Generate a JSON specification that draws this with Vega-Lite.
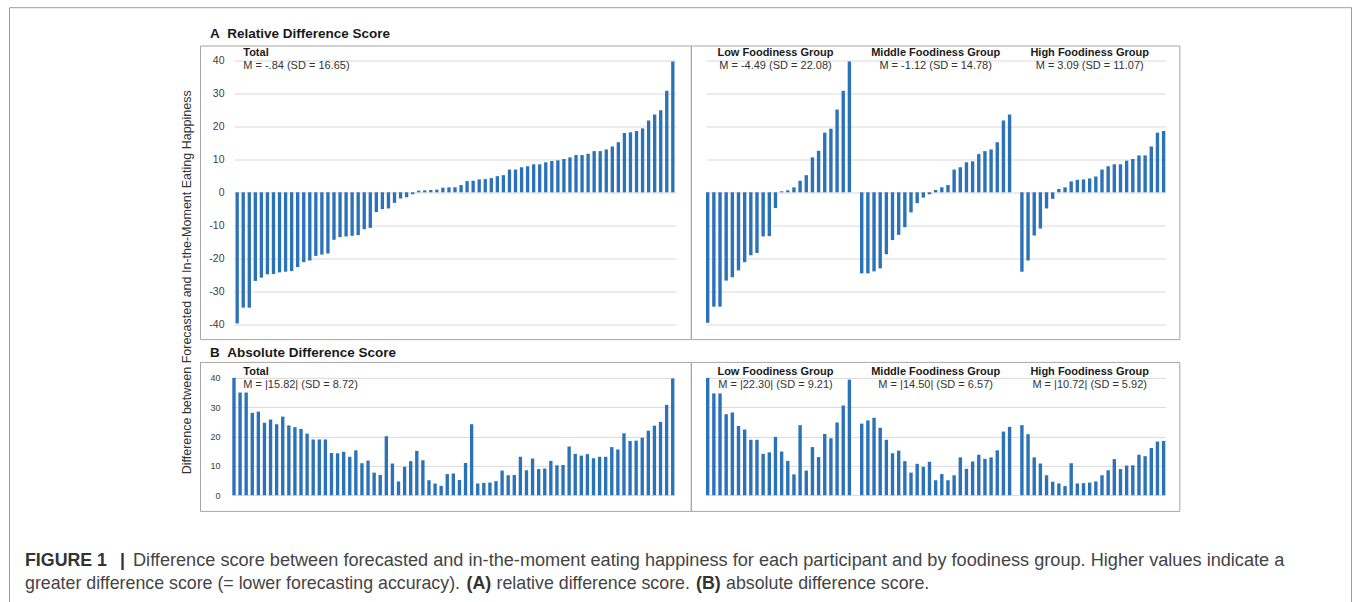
{
  "$schema": "https://vega.github.io/schema/vega-lite/v6.json",
  "padding": {"left": 6, "top": 6.5, "right": 2, "bottom": 0},
  "bounds": "flush",
  "columns": 3,
  "spacing": {"row": 22.4, "column": 0},
  "config": {
    "font": "Liberation Sans",
    "view": {"stroke": "#a6a6a6"}
  },
  "datasets": {
    "aTotal": [
      {"rank":1,"value":-39.8},{"rank":2,"value":-35},{"rank":3,"value":-35},{"rank":4,"value":-26.9},{"rank":5,"value":-25.9},
      {"rank":6,"value":-24.9},{"rank":7,"value":-24.8},{"rank":8,"value":-24.3},{"rank":9,"value":-24.1},{"rank":10,"value":-23.9},
      {"rank":11,"value":-22.7},{"rank":12,"value":-21.2},{"rank":13,"value":-20.7},{"rank":14,"value":-19.3},{"rank":15,"value":-18.9},
      {"rank":16,"value":-18.6},{"rank":17,"value":-14.4},{"rank":18,"value":-13.6},{"rank":19,"value":-13.4},{"rank":20,"value":-13.2},
      {"rank":21,"value":-13},{"rank":22,"value":-11.2},{"rank":23,"value":-10.8},{"rank":24,"value":-6},{"rank":25,"value":-5.1},
      {"rank":26,"value":-4.9},{"rank":27,"value":-3.2},{"rank":28,"value":-1.9},{"rank":29,"value":-1.5},{"rank":30,"value":-0.6},
      {"rank":31,"value":0.5},{"rank":32,"value":0.6},{"rank":33,"value":0.7},{"rank":34,"value":0.8},{"rank":35,"value":1.4},
      {"rank":36,"value":1.5},{"rank":37,"value":1.5},{"rank":38,"value":2.2},{"rank":39,"value":3.4},{"rank":40,"value":3.5},
      {"rank":41,"value":3.9},{"rank":42,"value":4.0},{"rank":43,"value":4.3},{"rank":44,"value":4.9},{"rank":45,"value":5.2},
      {"rank":46,"value":6.9},{"rank":47,"value":6.9},{"rank":48,"value":7.6},{"rank":49,"value":7.9},{"rank":50,"value":8.5},
      {"rank":51,"value":8.5},{"rank":52,"value":9.1},{"rank":53,"value":9.5},{"rank":54,"value":9.7},{"rank":55,"value":10.1},
      {"rank":56,"value":10.6},{"rank":57,"value":11.3},{"rank":58,"value":11.3},{"rank":59,"value":11.7},{"rank":60,"value":12.5},
      {"rank":61,"value":12.5},{"rank":62,"value":13.0},{"rank":63,"value":13.9},{"rank":64,"value":15.2},{"rank":65,"value":18.0},
      {"rank":66,"value":18.2},{"rank":67,"value":18.6},{"rank":68,"value":19.4},{"rank":69,"value":21.8},{"rank":70,"value":23.6},
      {"rank":71,"value":24.9},{"rank":72,"value":30.8},{"rank":73,"value":39.7}
    ],
    "bTotal": [
      {"rank":1,"value":40},{"rank":2,"value":35},{"rank":3,"value":35},{"rank":4,"value":28.1},{"rank":5,"value":28.5},
      {"rank":6,"value":24.7},{"rank":7,"value":25.8},{"rank":8,"value":24.2},{"rank":9,"value":26.8},{"rank":10,"value":23.8},
      {"rank":11,"value":23.2},{"rank":12,"value":22.6},{"rank":13,"value":21.0},{"rank":14,"value":19.0},{"rank":15,"value":19.0},
      {"rank":16,"value":19.0},{"rank":17,"value":14.4},{"rank":18,"value":14.3},{"rank":19,"value":14.8},{"rank":20,"value":13.1},
      {"rank":21,"value":15.3},{"rank":22,"value":10.9},{"rank":23,"value":11.8},{"rank":24,"value":7.7},{"rank":25,"value":6.9},
      {"rank":26,"value":20.1},{"rank":27,"value":10.8},{"rank":28,"value":4.7},{"rank":29,"value":9.7},{"rank":30,"value":11.6},
      {"rank":31,"value":15.1},{"rank":32,"value":11.9},{"rank":33,"value":5.1},{"rank":34,"value":4.0},{"rank":35,"value":3.2},
      {"rank":36,"value":7.2},{"rank":37,"value":7.4},{"rank":38,"value":5.2},{"rank":39,"value":11.0},{"rank":40,"value":24.2},
      {"rank":41,"value":4.0},{"rank":42,"value":4.2},{"rank":43,"value":4.3},{"rank":44,"value":4.8},{"rank":45,"value":8.4},
      {"rank":46,"value":6.8},{"rank":47,"value":6.9},{"rank":48,"value":13.1},{"rank":49,"value":8.5},{"rank":50,"value":12.5},
      {"rank":51,"value":8.9},{"rank":52,"value":9.1},{"rank":53,"value":11.7},{"rank":54,"value":10.2},{"rank":55,"value":10.3},
      {"rank":56,"value":16.6},{"rank":57,"value":14.1},{"rank":58,"value":13.5},{"rank":59,"value":14.0},{"rank":60,"value":12.6},
      {"rank":61,"value":13.1},{"rank":62,"value":13.1},{"rank":63,"value":16.4},{"rank":64,"value":15.6},{"rank":65,"value":21.1},
      {"rank":66,"value":18.5},{"rank":67,"value":18.6},{"rank":68,"value":19.6},{"rank":69,"value":22.0},{"rank":70,"value":23.7},
      {"rank":71,"value":25.0},{"rank":72,"value":30.8},{"rank":73,"value":39.8}
    ],
    "aGroups": [
      {"id":"L1","value":-39.6},{"id":"L2","value":-34.7},{"id":"L3","value":-34.7},{"id":"L4","value":-26.8},{"id":"L5","value":-25.8},
      {"id":"L6","value":-23.7},{"id":"L7","value":-21.2},{"id":"L8","value":-19.1},{"id":"L9","value":-18.4},{"id":"L10","value":-13.4},
      {"id":"L11","value":-13.3},{"id":"L12","value":-4.8},{"id":"L13","value":0.3},{"id":"L14","value":0.6},{"id":"L15","value":1.5},
      {"id":"L16","value":3.5},{"id":"L17","value":5.2},{"id":"L18","value":10.6},{"id":"L19","value":12.6},{"id":"L20","value":18.1},
      {"id":"L21","value":19.3},{"id":"L22","value":25.1},{"id":"L23","value":30.8},{"id":"L24","value":39.7},
      {"id":"M1","value":-24.6},{"id":"M2","value":-24.6},{"id":"M3","value":-24.0},{"id":"M4","value":-23.1},{"id":"M5","value":-18.8},
      {"id":"M6","value":-14.5},{"id":"M7","value":-12.9},{"id":"M8","value":-10.6},{"id":"M9","value":-6.1},{"id":"M10","value":-3.3},
      {"id":"M11","value":-1.6},{"id":"M12","value":-0.6},{"id":"M13","value":0.7},{"id":"M14","value":1.5},{"id":"M15","value":2.2},
      {"id":"M16","value":6.9},{"id":"M17","value":7.6},{"id":"M18","value":9.1},{"id":"M19","value":9.4},{"id":"M20","value":11.6},
      {"id":"M21","value":12.5},{"id":"M22","value":13.0},{"id":"M23","value":15.2},{"id":"M24","value":21.8},{"id":"M25","value":23.6},
      {"id":"H1","value":-24.1},{"id":"H2","value":-20.7},{"id":"H3","value":-13.1},{"id":"H4","value":-11.0},{"id":"H5","value":-4.9},
      {"id":"H6","value":-2.0},{"id":"H7","value":1.0},{"id":"H8","value":1.5},{"id":"H9","value":3.3},{"id":"H10","value":3.8},
      {"id":"H11","value":3.9},{"id":"H12","value":4.2},{"id":"H13","value":4.8},{"id":"H14","value":6.9},{"id":"H15","value":7.9},
      {"id":"H16","value":8.5},{"id":"H17","value":8.5},{"id":"H18","value":9.6},{"id":"H19","value":10.1},{"id":"H20","value":11.2},
      {"id":"H21","value":11.2},{"id":"H22","value":13.9},{"id":"H23","value":18.1},{"id":"H24","value":18.6}
    ],
    "bGroups": [
      {"id":"L1","value":40},{"id":"L2","value":34.7},{"id":"L3","value":34.7},{"id":"L4","value":27.6},{"id":"L5","value":28.2},
      {"id":"L6","value":23.6},{"id":"L7","value":22.4},{"id":"L8","value":18.9},{"id":"L9","value":18.9},{"id":"L10","value":14.1},
      {"id":"L11","value":14.6},{"id":"L12","value":19.9},{"id":"L13","value":14.9},{"id":"L14","value":11.7},{"id":"L15","value":7.1},
      {"id":"L16","value":23.9},{"id":"L17","value":8.4},{"id":"L18","value":16.4},{"id":"L19","value":13.0},{"id":"L20","value":20.9},
      {"id":"L21","value":19.4},{"id":"L22","value":24.8},{"id":"L23","value":30.6},{"id":"L24","value":39.4},
      {"id":"M1","value":24.4},{"id":"M2","value":25.5},{"id":"M3","value":26.4},{"id":"M4","value":23.0},{"id":"M5","value":18.9},
      {"id":"M6","value":14.3},{"id":"M7","value":15.2},{"id":"M8","value":11.6},{"id":"M9","value":7.7},{"id":"M10","value":10.7},
      {"id":"M11","value":9.7},{"id":"M12","value":11.4},{"id":"M13","value":5.1},{"id":"M14","value":7.2},{"id":"M15","value":5.1},
      {"id":"M16","value":6.8},{"id":"M17","value":12.9},{"id":"M18","value":9.0},{"id":"M19","value":11.5},{"id":"M20","value":13.8},
      {"id":"M21","value":12.4},{"id":"M22","value":12.9},{"id":"M23","value":15.3},{"id":"M24","value":21.7},{"id":"M25","value":23.3},
      {"id":"H1","value":23.9},{"id":"H2","value":20.8},{"id":"H3","value":12.9},{"id":"H4","value":10.8},{"id":"H5","value":6.8},
      {"id":"H6","value":4.6},{"id":"H7","value":4.0},{"id":"H8","value":3.1},{"id":"H9","value":10.9},{"id":"H10","value":4.0},
      {"id":"H11","value":4.1},{"id":"H12","value":4.3},{"id":"H13","value":4.7},{"id":"H14","value":6.8},{"id":"H15","value":8.5},
      {"id":"H16","value":12.3},{"id":"H17","value":8.9},{"id":"H18","value":10.1},{"id":"H19","value":10.2},{"id":"H20","value":13.8},
      {"id":"H21","value":13.3},{"id":"H22","value":16.1},{"id":"H23","value":18.3},{"id":"H24","value":18.5}
    ],
    "labelsA": [
      {"anchor":"L12","title":"Low Foodiness Group","stat":"M = -4.49 (SD = 22.08)"},
      {"anchor":"M13","title":"Middle Foodiness Group","stat":"M = -1.12 (SD = 14.78)"},
      {"anchor":"H12","title":"High Foodiness Group","stat":"M = 3.09 (SD = 11.07)"}
    ],
    "labelsB": [
      {"anchor":"L12","title":"Low Foodiness Group","stat":"M = |22.30| (SD = 9.21)"},
      {"anchor":"M13","title":"Middle Foodiness Group","stat":"M = |14.50| (SD = 6.57)"},
      {"anchor":"H12","title":"High Foodiness Group","stat":"M = |10.72| (SD = 5.92)"}
    ],
    "frame": [{"v": 0}]
  },
  "concat": [
    {
      "width": 191, "height": 293.6,
      "view": {"stroke": null},
      "data": {"values": []},
      "mark": "text",
      "encoding": {}
    },
    {
      "width": 490.7, "height": 293.6,
      "title": {"text": "A\u00a0\u00a0Relative Difference Score", "anchor": "start", "frame": "group", "dx": 10, "offset": -5.6, "baseline": "alphabetic", "fontSize": 13.5, "fontWeight": "bold", "color": "#1a1a1a"},
      "layer": [
        {
          "data": {"name": "aTotal"},
          "mark": {"type": "bar", "color": "#2b72b8"},
          "encoding": {
            "x": {"field": "rank", "type": "ordinal", "axis": null,
                  "scale": {"range": [34, 476], "paddingInner": 0.45, "paddingOuter": 0.25}},
            "y": {"field": "value", "type": "quantitative",
                  "scale": {"domain": [-44.55, 44.55], "nice": false, "zero": false},
                  "axis": {"values": [-40,-30,-20,-10,0,10,20,30,40], "grid": true, "gridColor": "#d9d9d9", "gridWidth": 1,
                           "domain": false, "ticks": false, "tickSize": 0, "labelPadding": -24, "labelAlign": "right",
                           "labelOverlap": false, "labelFontSize": 10.5, "labelColor": "#404040", "labelExpr": "'' + datum.value",
                           "title": "Difference between Forecasted and In-the-Moment Eating Happiness",
                           "titleFontSize": 12.5, "titleFontWeight": "normal", "titleColor": "#333333",
                           "titleX": -13.3, "titleY": 236.3, "titleAngle": -90, "titleBaseline": "middle", "titleAlign": "center"}}
          }
        },
        {
          "data": {"values": [{"t": "Total"}]},
          "mark": {"type": "text", "fontWeight": "bold", "fontSize": 11, "align": "left", "baseline": "middle", "color": "#1a1a1a"},
          "encoding": {"x": {"datum": 2, "type": "ordinal"}, "y": {"datum": 42.25, "type": "quantitative", "axis": {"values": [-40,-30,-20,-10,0,10,20,30,40]}}, "text": {"field": "t"}}
        },
        {
          "data": {"values": [{"t": "M = -.84 (SD = 16.65)"}]},
          "mark": {"type": "text", "fontSize": 11, "align": "left", "baseline": "middle", "color": "#333333"},
          "encoding": {"x": {"datum": 2, "type": "ordinal"}, "y": {"datum": 38.2, "type": "quantitative", "axis": {"values": [-40,-30,-20,-10,0,10,20,30,40]}}, "text": {"field": "t"}}
        }
      ]
    },
    {
      "width": 488.3, "height": 293.6,
      "layer": [
        {
          "data": {"name": "aGroups"},
          "mark": {"type": "bar", "color": "#2b72b8"},
          "encoding": {
            "x": {"field": "id", "type": "nominal", "axis": null,
                  "scale": {"domain": ["L1","L2","L3","L4","L5","L6","L7","L8","L9","L10","L11","L12","L13","L14","L15","L16","L17","L18","L19","L20","L21","L22","L23","L24","gap1","M1","M2","M3","M4","M5","M6","M7","M8","M9","M10","M11","M12","M13","M14","M15","M16","M17","M18","M19","M20","M21","M22","M23","M24","M25","gap2","H1","H2","H3","H4","H5","H6","H7","H8","H9","H10","H11","H12","H13","H14","H15","H16","H17","H18","H19","H20","H21","H22","H23","H24"],
                            "range": [15, 474.3], "paddingInner": 0.45, "paddingOuter": 0}},
            "y": {"field": "value", "type": "quantitative",
                  "scale": {"domain": [-44.55, 44.55], "nice": false, "zero": false},
                  "axis": {"values": [-40,-30,-20,-10,0,10,20,30,40], "grid": true, "gridColor": "#d9d9d9", "gridWidth": 1,
                           "domain": false, "ticks": false, "labels": false, "title": null}}
          }
        },
        {
          "data": {"name": "labelsA"},
          "mark": {"type": "text", "fontWeight": "bold", "fontSize": 11, "baseline": "middle", "color": "#1a1a1a"},
          "encoding": {"x": {"field": "anchor", "type": "nominal"}, "y": {"datum": 42.25, "type": "quantitative", "axis": {"values": [-40,-30,-20,-10,0,10,20,30,40]}}, "text": {"field": "title"}}
        },
        {
          "data": {"name": "labelsA"},
          "mark": {"type": "text", "fontSize": 11, "baseline": "middle", "color": "#333333"},
          "encoding": {"x": {"field": "anchor", "type": "nominal"}, "y": {"datum": 38.2, "type": "quantitative", "axis": {"values": [-40,-30,-20,-10,0,10,20,30,40]}}, "text": {"field": "stat"}}
        }
      ]
    },
    {
      "width": 191, "height": 149,
      "view": {"stroke": null},
      "data": {"values": []},
      "mark": "text",
      "encoding": {}
    },
    {
      "width": 490.7, "height": 149,
      "title": {"text": "B\u00a0\u00a0Absolute Difference Score", "anchor": "start", "frame": "group", "dx": 10, "offset": -8.6, "baseline": "alphabetic", "fontSize": 13.5, "fontWeight": "bold", "color": "#1a1a1a"},
      "layer": [
        {
          "data": {"name": "bTotal"},
          "mark": {"type": "bar", "color": "#2b72b8"},
          "encoding": {
            "x": {"field": "rank", "type": "ordinal", "axis": null,
                  "scale": {"range": [31.7, 475], "paddingInner": 0.45, "paddingOuter": 0.1}},
            "y": {"field": "value", "type": "quantitative",
                  "scale": {"domain": [-5.35, 45.45], "nice": false, "zero": false},
                  "axis": {"values": [0,10,20,30,40], "grid": true, "gridColor": "#d9d9d9", "gridWidth": 1,
                           "domain": false, "ticks": false, "tickSize": 0, "labelPadding": -20, "labelAlign": "right",
                           "labelOverlap": false, "labelFontSize": 9, "labelColor": "#404040", "title": null}}
          }
        },
        {
          "data": {"values": [{"t": "Total"}]},
          "mark": {"type": "text", "fontWeight": "bold", "fontSize": 11, "align": "left", "baseline": "middle", "color": "#1a1a1a", "dx": 3.2},
          "encoding": {"x": {"datum": 2, "type": "ordinal"}, "y": {"datum": 42.05, "type": "quantitative", "axis": {"values": [0,10,20,30,40]}}, "text": {"field": "t"}}
        },
        {
          "data": {"values": [{"t": "M = |15.82| (SD = 8.72)"}]},
          "mark": {"type": "text", "fontSize": 11, "align": "left", "baseline": "middle", "color": "#333333", "dx": 3.2},
          "encoding": {"x": {"datum": 2, "type": "ordinal"}, "y": {"datum": 37.5, "type": "quantitative", "axis": {"values": [0,10,20,30,40]}}, "text": {"field": "t"}}
        }
      ]
    },
    {
      "width": 488.3, "height": 149,
      "layer": [
        {
          "data": {"name": "bGroups"},
          "mark": {"type": "bar", "color": "#2b72b8"},
          "encoding": {
            "x": {"field": "id", "type": "nominal", "axis": null,
                  "scale": {"domain": ["L1","L2","L3","L4","L5","L6","L7","L8","L9","L10","L11","L12","L13","L14","L15","L16","L17","L18","L19","L20","L21","L22","L23","L24","gap1","M1","M2","M3","M4","M5","M6","M7","M8","M9","M10","M11","M12","M13","M14","M15","M16","M17","M18","M19","M20","M21","M22","M23","M24","M25","gap2","H1","H2","H3","H4","H5","H6","H7","H8","H9","H10","H11","H12","H13","H14","H15","H16","H17","H18","H19","H20","H21","H22","H23","H24"],
                            "range": [15, 474.3], "paddingInner": 0.45, "paddingOuter": 0}},
            "y": {"field": "value", "type": "quantitative",
                  "scale": {"domain": [-5.35, 45.45], "nice": false, "zero": false},
                  "axis": {"values": [0,10,20,30,40], "grid": true, "gridColor": "#d9d9d9", "gridWidth": 1,
                           "domain": false, "ticks": false, "labels": false, "title": null}}
          }
        },
        {
          "data": {"name": "labelsB"},
          "mark": {"type": "text", "fontWeight": "bold", "fontSize": 11, "baseline": "middle", "color": "#1a1a1a"},
          "encoding": {"x": {"field": "anchor", "type": "nominal"}, "y": {"datum": 42.05, "type": "quantitative", "axis": {"values": [0,10,20,30,40]}}, "text": {"field": "title"}}
        },
        {
          "data": {"name": "labelsB"},
          "mark": {"type": "text", "fontSize": 11, "baseline": "middle", "color": "#333333"},
          "encoding": {"x": {"field": "anchor", "type": "nominal"}, "y": {"datum": 37.6, "type": "quantitative", "axis": {"values": [0,10,20,30,40]}}, "text": {"field": "stat"}}
        }
      ]
    },
    {
      "width": 191, "height": 70,
      "view": {"stroke": null},
      "resolve": {"scale": {"y": "independent"}, "axis": {"y": "independent"}},
      "layer": [
        {
          "data": {"name": "frame"},
          "mark": {"type": "point", "opacity": 0},
          "encoding": {
            "x": {"field": "v", "type": "quantitative", "scale": {"domain": [0, 1], "range": [0, 1342]},
                  "axis": {"orient": "top", "offset": 526.1, "domain": true, "domainColor": "#9a9a9a", "domainWidth": 1, "ticks": false, "labels": false, "grid": false, "title": null}},
            "y": {"field": "v", "type": "quantitative", "scale": {"domain": [0, 1], "range": [70, -526.1]},
                  "axis": {"orient": "left", "domain": true, "domainColor": "#9a9a9a", "domainWidth": 1, "ticks": false, "labels": false, "grid": false, "title": null}}
          }
        },
        {
          "data": {"name": "frame"},
          "mark": {"type": "point", "opacity": 0},
          "encoding": {
            "x": {"field": "v", "type": "quantitative"},
            "y": {"field": "v", "type": "quantitative", "scale": {"domain": [0, 1], "range": [70, -526.1]},
                  "axis": {"orient": "right", "offset": 1151, "domain": true, "domainColor": "#9a9a9a", "domainWidth": 1, "ticks": false, "labels": false, "grid": false, "title": null}}
          }
        },
        {"data": {"values": [{"t": "FIGURE 1"}]}, "mark": {"type": "text", "align": "left", "baseline": "alphabetic", "fontSize": 17.8, "fontWeight": "bold", "color": "#333333", "dx": 0},
         "encoding": {"x": {"value": 16}, "y": {"value": 32.9}, "text": {"field": "t"}}},
        {"data": {"values": [{"t": "|"}]}, "mark": {"type": "text", "align": "left", "baseline": "alphabetic", "fontSize": 17.8, "fontWeight": "bold", "color": "#333333", "dx": 95},
         "encoding": {"x": {"value": 16}, "y": {"value": 32.9}, "text": {"field": "t"}}},
        {"data": {"values": [{"t": "Difference score between forecasted and in-the-moment eating happiness for each participant and by foodiness group. Higher values indicate a"}]}, "mark": {"type": "text", "align": "left", "baseline": "alphabetic", "fontSize": 18.15, "color": "#444444", "dx": 108},
         "encoding": {"x": {"value": 16}, "y": {"value": 32.9}, "text": {"field": "t"}}},
        {"data": {"values": [{"t": "greater difference score (= lower forecasting accuracy)."}]}, "mark": {"type": "text", "align": "left", "baseline": "alphabetic", "fontSize": 17.8, "color": "#444444", "dx": 0},
         "encoding": {"x": {"value": 16}, "y": {"value": 55.9}, "text": {"field": "t"}}},
        {"data": {"values": [{"t": "(A)"}]}, "mark": {"type": "text", "align": "left", "baseline": "alphabetic", "fontSize": 17.8, "fontWeight": "bold", "color": "#333333", "dx": 441.5},
         "encoding": {"x": {"value": 16}, "y": {"value": 55.9}, "text": {"field": "t"}}},
        {"data": {"values": [{"t": "relative difference score."}]}, "mark": {"type": "text", "align": "left", "baseline": "alphabetic", "fontSize": 17.8, "color": "#444444", "dx": 471.5},
         "encoding": {"x": {"value": 16}, "y": {"value": 55.9}, "text": {"field": "t"}}},
        {"data": {"values": [{"t": "(B)"}]}, "mark": {"type": "text", "align": "left", "baseline": "alphabetic", "fontSize": 17.8, "fontWeight": "bold", "color": "#333333", "dx": 671},
         "encoding": {"x": {"value": 16}, "y": {"value": 55.9}, "text": {"field": "t"}}},
        {"data": {"values": [{"t": "absolute difference score."}]}, "mark": {"type": "text", "align": "left", "baseline": "alphabetic", "fontSize": 17.8, "color": "#444444", "dx": 701},
         "encoding": {"x": {"value": 16}, "y": {"value": 55.9}, "text": {"field": "t"}}}
      ]
    }
  ]
}
